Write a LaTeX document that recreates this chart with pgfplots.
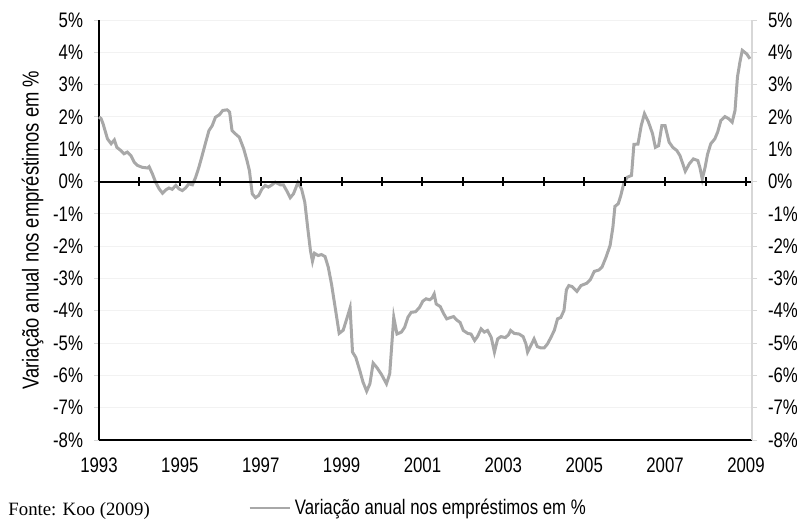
\documentclass[border=0pt]{standalone}
\usepackage{pgfplots}
\pgfplotsset{compat=1.18}
\usepackage{fontspec}
\setmainfont[FakeStretch=0.8]{Liberation Sans}
\newfontfamily\seriffont{Liberation Serif}
\definecolor{lc}{RGB}{168,168,168}
\definecolor{gridc}{RGB}{242,242,242}
\definecolor{rax}{RGB}{215,215,215}

\pgfplotstableread{
x y
1993.00 2.00
1993.05 1.95
1993.10 1.79
1993.21 1.32
1993.30 1.17
1993.38 1.29
1993.44 1.06
1993.54 0.96
1993.62 0.86
1993.70 0.91
1993.79 0.80
1993.87 0.60
1993.95 0.50
1994.07 0.44
1994.20 0.42
1994.24 0.46
1994.32 0.24
1994.40 -0.02
1994.49 -0.23
1994.57 -0.36
1994.65 -0.26
1994.73 -0.20
1994.81 -0.24
1994.90 -0.12
1994.98 -0.23
1995.06 -0.28
1995.14 -0.20
1995.22 -0.07
1995.31 -0.10
1995.39 0.13
1995.47 0.44
1995.55 0.80
1995.64 1.22
1995.72 1.58
1995.80 1.73
1995.88 1.99
1995.98 2.07
1996.06 2.20
1996.17 2.22
1996.23 2.15
1996.29 1.58
1996.37 1.48
1996.47 1.37
1996.58 1.01
1996.66 0.65
1996.72 0.34
1996.79 -0.38
1996.87 -0.50
1996.95 -0.43
1997.03 -0.23
1997.11 -0.12
1997.19 -0.17
1997.28 -0.10
1997.36 -0.02
1997.48 -0.10
1997.56 -0.10
1997.64 -0.28
1997.73 -0.50
1997.81 -0.38
1997.92 -0.03
1998.01 -0.23
1998.09 -0.64
1998.17 -1.52
1998.23 -2.14
1998.28 -2.47
1998.33 -2.22
1998.42 -2.29
1998.50 -2.26
1998.59 -2.32
1998.67 -2.65
1998.75 -3.17
1998.84 -3.89
1998.94 -4.70
1999.04 -4.60
1999.14 -4.20
1999.21 -3.91
1999.27 -5.28
1999.35 -5.44
1999.45 -5.85
1999.53 -6.21
1999.62 -6.49
1999.70 -6.26
1999.78 -5.62
1999.88 -5.77
1999.99 -5.98
2000.11 -6.26
2000.19 -5.95
2000.29 -4.20
2000.37 -4.72
2000.48 -4.66
2000.56 -4.51
2000.64 -4.20
2000.72 -4.05
2000.83 -4.03
2000.93 -3.89
2001.01 -3.70
2001.09 -3.63
2001.18 -3.66
2001.24 -3.60
2001.29 -3.48
2001.34 -3.79
2001.44 -3.87
2001.52 -4.08
2001.60 -4.25
2001.69 -4.21
2001.77 -4.18
2001.84 -4.28
2001.93 -4.36
2002.01 -4.61
2002.12 -4.70
2002.20 -4.72
2002.29 -4.92
2002.36 -4.80
2002.45 -4.56
2002.53 -4.66
2002.61 -4.61
2002.70 -4.82
2002.78 -5.28
2002.86 -4.87
2002.94 -4.80
2003.05 -4.83
2003.13 -4.74
2003.18 -4.61
2003.27 -4.70
2003.39 -4.72
2003.49 -4.80
2003.56 -5.03
2003.60 -5.28
2003.68 -5.08
2003.76 -4.87
2003.84 -5.11
2003.93 -5.15
2004.01 -5.15
2004.09 -5.03
2004.17 -4.84
2004.26 -4.61
2004.34 -4.25
2004.42 -4.21
2004.50 -3.99
2004.56 -3.35
2004.62 -3.22
2004.70 -3.25
2004.82 -3.40
2004.92 -3.22
2005.06 -3.15
2005.15 -3.04
2005.25 -2.78
2005.36 -2.74
2005.44 -2.65
2005.54 -2.34
2005.64 -1.98
2005.71 -1.41
2005.76 -0.77
2005.84 -0.69
2005.90 -0.46
2005.98 -0.05
2006.06 0.13
2006.17 0.19
2006.23 1.15
2006.33 1.16
2006.41 1.73
2006.49 2.10
2006.59 1.84
2006.69 1.48
2006.76 1.06
2006.84 1.11
2006.92 1.73
2007.00 1.73
2007.10 1.22
2007.19 1.06
2007.29 0.96
2007.37 0.80
2007.50 0.32
2007.60 0.55
2007.70 0.70
2007.81 0.65
2007.86 0.44
2007.92 0.08
2007.99 0.44
2008.05 0.84
2008.13 1.17
2008.23 1.32
2008.30 1.53
2008.38 1.89
2008.48 2.01
2008.58 1.94
2008.66 1.84
2008.73 2.20
2008.79 3.23
2008.85 3.69
2008.91 4.06
2009.02 3.95
2009.10 3.80
}\loans

\begin{document}
\begin{tikzpicture}
\useasboundingbox (-49.5bp,-40bp) rectangle (349bp,220bp);
\begin{axis}[
  at={(0,0)}, anchor=south west,
  scale only axis, width=326.5bp, height=210bp,
  xmin=1993, xmax=2009.15, ymin=-8, ymax=5,
  axis x line*=bottom, axis y line*=left,
  x axis line style={black, line width=1bp, -},
  y axis line style={black, line width=1bp, -},
  xtick={1993,1995,1997,1999,2001,2003,2005,2007,2009},
  xticklabels={1993,1995,1997,1999,2001,2003,2005,2007,2009},
  ytick={-8,-7,...,5},
  yticklabels={-8\%,-7\%,-6\%,-5\%,-4\%,-3\%,-2\%,-1\%,0\%,1\%,2\%,3\%,4\%,5\%},
  x tick style={draw=none},
  y tick style={rax, line width=0.5bp},
  tick align=outside, major tick length=2.5bp,
  ymajorgrids, grid style={gridc, line width=0.5bp},
  tick label style={font=\fontsize{10.5bp}{12bp}\selectfont},
  xticklabel style={yshift=-3bp},
  yticklabel style={xshift=-2bp},
  ylabel={Variação anual nos empréstimos em \%},
  ylabel style={font=\fontsize{11.5bp}{13bp}\selectfont, yshift=-2bp},
  legend style={draw=none, fill=none, at={(rel axis cs:0.228,-0.162)}, anchor=west,
    font=\fontsize{10.5bp}{12bp}\selectfont, inner sep=0pt, row sep=0pt},
  legend image code/.code={\draw[#1, line width=1.3bp] (0bp,0bp) -- (20bp,0bp);},
  clip=false,
]
\addplot[lc, line width=1.5bp] table[x=x,y=y] {\loans};
\addlegendentry{Variação anual nos empréstimos em \%}
\addplot[black, line width=1bp, forget plot] coordinates {(1993,0) (2009.15,0)};
\addplot[only marks, mark=|, mark size=2.2bp, mark options={black, line width=1bp}, forget plot]
  coordinates {(1994,0) (1995,0) (1996,0) (1997,0) (1998,0) (1999,0) (2000,0) (2001,0)
  (2002,0) (2003,0) (2004,0) (2005,0) (2006,0) (2007,0) (2008,0) (2009,0)};
\end{axis}
\begin{axis}[
  at={(0,0)}, anchor=south west,
  scale only axis, width=326.5bp, height=210bp,
  xmin=1993, xmax=2009.15, ymin=-8, ymax=5,
  axis x line=none, axis y line*=right,
  y axis line style={rax, line width=0.8bp, -},
  ytick={-8,-7,...,5},
  yticklabels={-8\%,-7\%,-6\%,-5\%,-4\%,-3\%,-2\%,-1\%,0\%,1\%,2\%,3\%,4\%,5\%},
  y tick style={rax, line width=0.5bp},
  tick align=outside, major tick length=2.5bp,
  tick label style={font=\fontsize{10.5bp}{12bp}\selectfont},
  yticklabel style={xshift=2bp},
]
\end{axis}
\node[anchor=base west, font=\seriffont\fontsize{9.4bp}{11bp}\selectfont, inner sep=0pt] at (-45.5bp,-37.5bp) {Fonte: Koo (2009)};
\end{tikzpicture}
\end{document}
